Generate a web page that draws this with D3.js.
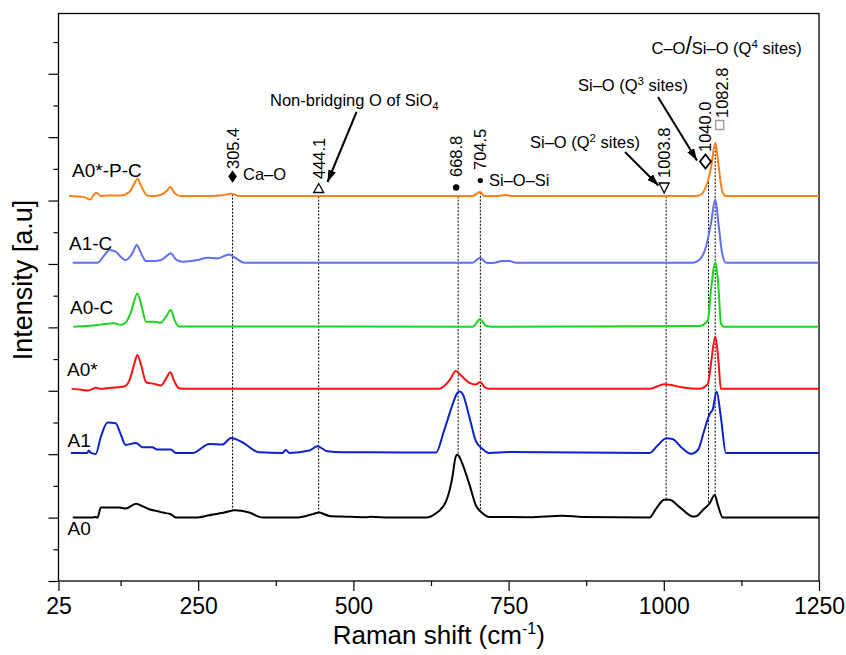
<!DOCTYPE html>
<html>
<head>
<meta charset="utf-8">
<title>Raman spectra</title>
<script src="https://d3js.org/d3.v7.min.js"></script>
<style>
  body { margin: 0; background: #fff; }
  text { font-family: "Liberation Sans", Arial, sans-serif; fill: #000; }
</style>
</head>
<body>
<div id="chart"></div>
<script>
// samples, bottom to top
var names = ["A0", "A1", "A0*", "A0-C", "A1-C", "A0*-P-C"];
var offsets = [0, 1.02, 2.03, 3.01, 4.02, 5.07];
var colors = ["#000000", "#0b22c8", "#ff1010", "#1cd41c", "#5f6ef2", "#ff8014"];

// spectra: [Raman shift (cm-1), relative intensity]
var specA0 = [[48,0],[80,0],[84,0.01],[88,0],[93,0.158],[100,0.16],[123,0.158],[133,0.142],[150,0.22],[158,0.19],
  [171,0.131],[185,0.1],[193,0.079],[206,0.053],[214,0],[246,0],[268,0.037],[292,0.079],[310,0.116],[332,0.079],
  [354,0],[408,0],[434,0.053],[445,0.079],[461,0.026],[488,0.015],[520,0.005],[528,0.012],[560,0],[617,0],
  [633,0.068],[649,0.25],[660,0.67],[664,0.93],[667,0.99],[670,0.97],[673,0.91],[687,0.52],[697,0.2],[708,0.068],
  [719,0.01],[783,0.005],[837,0.03],[869,0.01],[977,0],[988,0.147],[1001,0.28],[1009,0.28],[1025,0.17],
  [1047,0.016],[1052,0.02],[1063,0.12],[1074,0.226],[1082,0.357],[1087,0.2],[1095,0],[1250,0]];
var specA1 = [[45,0],[71,0],[74,0.037],[77,0],[85,-0.016],[93,0.247],[104,0.478],[117,0.468],[125,0.3],[133,0.126],
  [150,0.158],[160,0.09],[176,0.09],[184,0.053],[206,0.053],[214,0],[241,0],[268,0.142],[289,0.131],[303,0.237],
  [321,0.168],[348,0.01],[386,0],[391,0.047],[397,0],[429,0.037],[442,0.105],[458,0.026],[483,0.01],[526,0.01],
  [633,0.005],[646,0.35],[660,0.77],[667,0.94],[671,0.97],[676,0.93],[687,0.56],[697,0.195],[708,0.063],[719,0],
  [751,0.015],[977,0],[990,0.116],[1004,0.231],[1014,0.22],[1028,0.09],[1044,-0.016],[1055,0.047],[1065,0.35],
  [1074,0.615],[1079,0.69],[1085,0.97],[1092,0.56],[1100,0],[1250,0]];
var specA0s = [[46,0],[64,-0.016],[72,-0.026],[80,0],[85,0.016],[93,0],[109,0.016],[131,0.037],[139,0.13],[147,0.39],
  [152,0.536],[159,0.34],[166,0.105],[179,0.079],[190,0.053],[198,0.158],[205,0.263],[211,0.13],[219,0.01],[233,0],
  [638,0],[655,0.137],[665,0.28],[673,0.215],[687,0.095],[697,0.068],[704,0.11],[711,0.03],[719,0],[977,0],
  [990,0.042],[1001,0.074],[1014,0.058],[1031,0.02],[1057,0],[1071,0.079],[1076,0.4],[1083,0.825],[1088,0.447],
  [1092,0],[1250,0]];
var specA0C = [[49,0],[88,0.026],[99,0.042],[115,0.053],[125,0.03],[133,0.063],[142,0.237],[152,0.526],[159,0.315],
  [166,0.079],[179,0.079],[190,0.063],[198,0.158],[206,0.263],[212,0.105],[219,0.005],[244,0.005],[692,0],
  [704,0.12],[714,0.01],[724,0],[1057,0.01],[1071,0.105],[1076,0.58],[1083,1.01],[1088,0.63],[1092,0.053],
  [1097,0],[1250,0]];
var specA1C = [[48,0],[88,0],[99,0.12],[107,0.2],[117,0.174],[125,0.095],[133,0.042],[144,0.147],[151,0.28],
  [158,0.147],[166,0.026],[179,0.026],[190,0.042],[198,0.095],[206,0.147],[214,0.053],[225,0.015],[249,0.042],
  [265,0.079],[281,0.068],[300,0.13],[311,0.068],[324,0],[692,0],[704,0.079],[714,0],[724,-0.005],[740,0.026],
  [751,0.026],[762,0],[1047,0],[1057,0.042],[1068,0.25],[1076,0.62],[1083,1.0],[1088,0.62],[1094,0.147],
  [1100,0],[1250,0]];
var specA0sPC = [[42,0],[66,-0.016],[76,-0.053],[82,0.021],[86,0.053],[93,0],[104,0.01],[125,0.01],[139,0.063],
  [147,0.195],[152,0.273],[159,0.142],[168,0.01],[179,0],[190,0.021],[200,0.09],[205,0.142],[212,0.047],[222,0],
  [250,0],[287,0.01],[303,0.037],[316,0],[692,0],[704,0.063],[711,0],[730,0],[746,0.016],[755,0],[1052,0],
  [1060,0.026],[1071,0.237],[1076,0.447],[1083,0.84],[1088,0.5],[1094,0.079],[1100,0],[1250,0]];
var spectra = [specA0, specA1, specA0s, specA0C, specA1C, specA0sPC];

// band positions
var peakLabels = ["305.4", "444.1", "668.8", "704.5", "1003.8", "1040.0", "1082.8"];
var peakLines = [305.4, 444.1, 668.8, 704.5, 1003.8, 1072.0, 1082.8];

var xTicks = [25, 250, 500, 750, 1000, 1250];
var xMinor = [125, 375, 625, 875, 1125];

var W = 846, H = 655;
var svg = d3.select("#chart").append("svg").attr("width", W).attr("height", H);

var x = d3.scaleLinear().domain([25, 1250]).range([58.5, 819]);
var y = d3.scaleLinear().domain([-1, 7.95]).range([581, 13.5]);

// axes
svg.append("g").attr("transform", "translate(0,581)")
  .call(d3.axisBottom(x).tickValues(xTicks).tickSize(10).tickPadding(7).tickFormat(d3.format("d")))
  .call(function (g) {
    g.select(".domain").remove();
    g.selectAll("text").style("font-size", "23px").attr("fill", "#000");
    g.selectAll("line").attr("stroke-width", 1.2);
  });
svg.append("g").attr("transform", "translate(0,581)")
  .call(d3.axisBottom(x).tickValues(xMinor).tickSize(5).tickFormat(""))
  .call(function (g) { g.select(".domain").remove(); g.selectAll("line").attr("stroke-width", 1.2); });
svg.append("g").attr("transform", "translate(58.5,0)")
  .call(d3.axisLeft(y).tickValues(d3.range(-1, 8, 1)).tickSize(10).tickFormat(""))
  .call(function (g) { g.select(".domain").remove(); g.selectAll("line").attr("stroke-width", 1.2); });
svg.append("g").attr("transform", "translate(58.5,0)")
  .call(d3.axisLeft(y).tickValues(d3.range(-0.5, 8, 1)).tickSize(5).tickFormat(""))
  .call(function (g) { g.select(".domain").remove(); g.selectAll("line").attr("stroke-width", 1.2); });

svg.append("rect").attr("x", 58.5).attr("y", 13.5).attr("width", 819 - 58.5).attr("height", 581 - 13.5)
  .attr("fill", "none").attr("stroke", "#000").attr("stroke-width", 1.3);

// axis titles
var xt = svg.append("text").attr("x", 438.75).attr("y", 644).attr("text-anchor", "middle").style("font-size", "26px");
xt.append("tspan").text("Raman shift (cm");
xt.append("tspan").attr("dy", -10).style("font-size", "16px").text("-1");
xt.append("tspan").attr("dy", 10).text(")");

svg.append("text").attr("transform", "translate(32,280) rotate(-90)").attr("text-anchor", "middle")
  .style("font-size", "27px").text("Intensity [a.u]");

// value of a spectrum at a given shift (linear between read points)
function valueAt(spec, v) {
  var i = d3.bisector(function (d) { return d[0]; }).right(spec, v);
  if (i <= 0) return spec[0][1];
  if (i >= spec.length) return spec[spec.length - 1][1];
  var a = spec[i - 1], b = spec[i];
  return a[1] + (b[1] - a[1]) * (v - a[0]) / (b[0] - a[0]);
}

// dotted guide lines from top spectrum down to bottom spectrum
svg.selectAll(".guide").data(peakLines).enter().append("line")
  .attr("class", "guide")
  .attr("x1", function (d) { return x(d); }).attr("x2", function (d) { return x(d); })
  .attr("y1", function (d) { return y(valueAt(specA0sPC, d) + offsets[5]); })
  .attr("y2", function (d) { return y(valueAt(specA0, d) + offsets[0]); })
  .attr("stroke", "#000").attr("stroke-width", 1).attr("stroke-dasharray", "2,1.5");

// spectra
var line = d3.line()
  .x(function (d) { return x(d[0]); })
  .curve(d3.curveMonotoneX);
spectra.forEach(function (s, i) {
  svg.append("path").datum(s)
    .attr("d", line.y(function (d) { return y(d[1] + offsets[i]); }))
    .attr("fill", "none").attr("stroke", colors[i]).attr("stroke-width", 2)
    .attr("stroke-linejoin", "round");
});

// sample names
var nameLayout = [[67.5, 535], [67.5, 447], [67, 375.5], [70, 314], [69, 249.5], [72, 177]];
svg.selectAll(".name").data(names).enter().append("text")
  .attr("class", "name")
  .attr("x", function (d, i) { return nameLayout[i][0]; })
  .attr("y", function (d, i) { return nameLayout[i][1]; })
  .style("font-size", "19px").text(function (d) { return d; });

// band markers: pixel shift from guide line, marker y, label bottom y
var markLayout = [
  { dx: 0, my: 176.5, ty: 169, sym: "fdiamond" },
  { dx: 0, my: 188, ty: 179, sym: "tup" },
  { dx: -2, my: 187.5, ty: 177, sym: "dot" },
  { dx: 0, my: 180.5, ty: 170, sym: "sdot" },
  { dx: -2, my: 188, ty: 178, sym: "tdown" },
  { dx: -3, my: 161.5, ty: 152, sym: "odiamond" },
  { dx: 4.5, my: 125, ty: 118, sym: "square" }
];
var shapes = {
  fdiamond: "M0,-5L3.5,0L0,5L-3.5,0Z",
  tup: "M0,-4.5L5,4.5L-5,4.5Z",
  tdown: "M0,5L5,-5L-5,-5Z",
  odiamond: "M0,-7L5.5,0L0,7L-5.5,0Z",
  square: "M-4,-4.5H4V4.5H-4Z"
};
peakLabels.forEach(function (lab, i) {
  var m = markLayout[i];
  var cx = x(peakLines[i]) + m.dx;
  if (m.sym === "dot" || m.sym === "sdot") {
    svg.append("circle").attr("cx", cx).attr("cy", m.my).attr("r", m.sym === "dot" ? 3.2 : 2.6).attr("fill", "#000");
  } else {
    var filled = m.sym === "fdiamond";
    svg.append("path").attr("d", shapes[m.sym]).attr("transform", "translate(" + cx + "," + m.my + ")")
      .attr("fill", filled ? "#000" : "none")
      .attr("stroke", m.sym === "square" ? "#9a9a9a" : "#000")
      .attr("stroke-width", m.sym === "odiamond" ? 1.8 : 1.3);
  }
  svg.append("text").attr("transform", "translate(" + (cx + (i === 6 ? 2 : 0)) + "," + m.ty + ") rotate(-90)")
    .attr("dy", "0.36em").style("font-size", "16.5px").text(lab);
});

// assignments
svg.append("text").attr("x", 243).attr("y", 180).style("font-size", "16.5px").text("Ca–O");
svg.append("text").attr("x", 489).attr("y", 186).style("font-size", "16.5px").text("Si–O–Si");

var t1 = svg.append("text").attr("x", 270).attr("y", 106).style("font-size", "16.5px");
t1.append("tspan").text("Non-bridging O of SiO");
t1.append("tspan").attr("dy", 4).style("font-size", "11.5px").text("4");

function qLabel(x0, y0, n) {
  var t = svg.append("text").attr("x", x0).attr("y", y0).style("font-size", "16.5px");
  t.append("tspan").text("Si–O (Q");
  t.append("tspan").attr("dy", -6).style("font-size", "11.5px").text(n);
  t.append("tspan").attr("dy", 6).text(" sites)");
  return t;
}
qLabel(530, 147.5, "2");
qLabel(578, 91, "3");

var t4 = svg.append("text").attr("x", 651.5).attr("y", 54).style("font-size", "16.5px");
t4.append("tspan").text("C–O");
t4.append("tspan").style("font-size", "23px").text("/");
t4.append("tspan").text("Si–O (Q");
t4.append("tspan").attr("dy", -6).style("font-size", "11.5px").text("4");
t4.append("tspan").attr("dy", 6).text(" sites)");

// arrows
svg.append("defs").append("marker").attr("id", "head")
  .attr("viewBox", "0 0 12 8").attr("refX", 12).attr("refY", 4)
  .attr("markerWidth", 12).attr("markerHeight", 8).attr("markerUnits", "userSpaceOnUse")
  .attr("orient", "auto")
  .append("path").attr("d", "M0,0L12,4L0,8Z").attr("fill", "#000");
var arrows = [[356.5, 112, 327.5, 182], [625, 152, 658.5, 185.5], [658, 97, 697, 160.5]];
arrows.forEach(function (a) {
  svg.append("line").attr("x1", a[0]).attr("y1", a[1]).attr("x2", a[2]).attr("y2", a[3])
    .attr("stroke", "#000").attr("stroke-width", 2).attr("marker-end", "url(#head)");
});
</script>
</body>
</html>
